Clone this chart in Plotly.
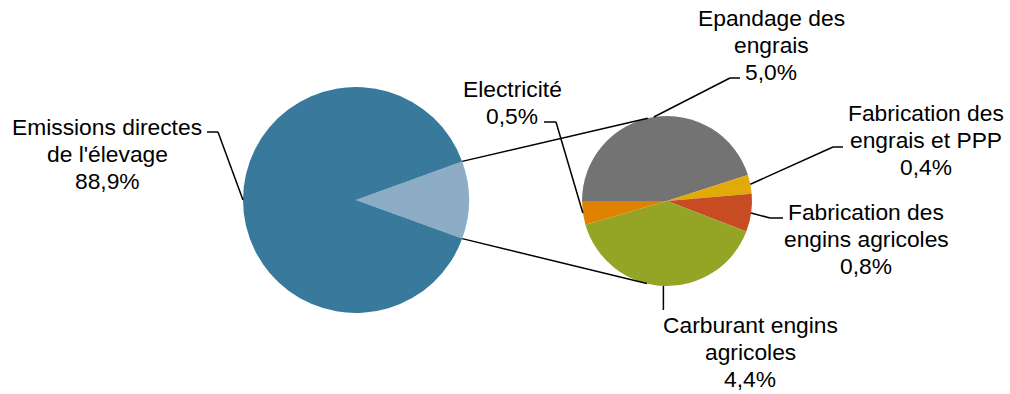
import math
import plotly.graph_objects as go

# ---- data -------------------------------------------------------------
main_label = "Emissions directes de l'élevage"
main_value = 88.9

detail_labels = [
    "Epandage des engrais",
    "Fabrication des engrais et PPP",
    "Fabrication des engins agricoles",
    "Carburant engins agricoles",
    "Electricité",
]
detail_values = [5.0, 0.4, 0.8, 4.4, 0.5]

# text lines shown for each label (value line appended automatically)
main_lines = ["Emissions directes", "de l'élevage"]
detail_lines = [
    ["Epandage des", "engrais"],
    ["Fabrication des", "engrais et PPP"],
    ["Fabrication des", "engins agricoles"],
    ["Carburant engins", "agricoles"],
    ["Electricité"],
]

# ---- styling / layout -------------------------------------------------
W, H = 1010, 394
FONT = "Liberation Sans, Arial, sans-serif"
FS = 22.8
LINE_H = 27

main_color = "#397A9C"
rest_color = "#8DADC6"
detail_colors = ["#737373", "#E2AA06", "#C84C23", "#94A424", "#DF8200"]

BIG_C, BIG_R = (356.0, 200.0), 113.0
SMALL_C, SMALL_R = (667.0, 201.0), 85.0

rest_value = round(sum(detail_values), 1)
big_values = [rest_value, main_value]
big_rotation = 90 - 180 * rest_value / (rest_value + main_value)
small_rotation = 270


def fx(x):
    return x / W


def fy(y):
    return 1 - y / H


def fmt(v):
    return f"{v:.1f}".replace(".", ",") + "%"


def edge_point(center, r, angle_deg):
    # angle measured clockwise from 12 o'clock, screen coordinates
    a = math.radians(angle_deg)
    return center[0] + r * math.sin(a), center[1] - r * math.cos(a)


def mid_angles(values, rotation):
    total = sum(values)
    out, cur = [], rotation
    for v in values:
        span = 360 * v / total
        out.append(cur + span / 2)
        cur += span
    return out


def tangent_points(p, center, r):
    vx, vy = p[0] - center[0], p[1] - center[1]
    d = math.hypot(vx, vy)
    phi = math.atan2(vy, vx)
    alpha = math.acos(r / d)
    pts = [(center[0] + r * math.cos(phi + s * alpha),
            center[1] + r * math.sin(phi + s * alpha)) for s in (1, -1)]
    return sorted(pts, key=lambda t: t[1])


def domain(center, r):
    return dict(x=[fx(center[0] - r), fx(center[0] + r)],
                y=[fy(center[1] + r), fy(center[1] - r)])


fig = go.Figure()
fig.add_trace(go.Pie(
    values=big_values, labels=["Autres", main_label], sort=False,
    direction="clockwise", rotation=big_rotation,
    marker=dict(colors=[rest_color, main_color], line=dict(width=0)),
    textinfo="none", hoverinfo="skip", domain=domain(BIG_C, BIG_R),
))
fig.add_trace(go.Pie(
    values=detail_values, labels=detail_labels, sort=False,
    direction="clockwise", rotation=small_rotation,
    marker=dict(colors=detail_colors, line=dict(width=0)),
    textinfo="none", hoverinfo="skip", domain=domain(SMALL_C, SMALL_R),
))

shapes = []


def polyline(points):
    for (x0, y0), (x1, y1) in zip(points[:-1], points[1:]):
        shapes.append(dict(type="line", xref="paper", yref="paper",
                           x0=fx(x0), y0=fy(y0), x1=fx(x1), y1=fy(y1),
                           line=dict(color="#000000", width=1.5)))


# connectors between the two pies (tangent to the detail pie)
rest_span = 360 * rest_value / (rest_value + main_value)
top_edge = edge_point(BIG_C, BIG_R, big_rotation)
bot_edge = edge_point(BIG_C, BIG_R, big_rotation + rest_span)
polyline([top_edge, tangent_points(top_edge, SMALL_C, SMALL_R)[0]])
polyline([bot_edge, tangent_points(bot_edge, SMALL_C, SMALL_R)[1]])

annotations = []


def label(cx, y0, lines):
    for i, t in enumerate(lines):
        annotations.append(dict(x=fx(cx), y=fy(y0 + i * LINE_H), xref="paper",
                                yref="paper", text=t, showarrow=False,
                                xanchor="center", yanchor="middle",
                                font=dict(family=FONT, size=FS, color="#000000")))


# main slice label
main_mid = mid_angles(big_values, big_rotation)[1]
polyline([edge_point(BIG_C, BIG_R, main_mid), (218, 132), (207, 132)])
label(107, 127, main_lines + [fmt(main_value)])

# detail slice labels: (text centre x, first line y, leader bend points)
detail_layout = [
    (771, 18, [(730, 78), (740, 78)]),
    (926, 113, [(833, 147), (843, 147)]),
    (866, 212, [(770, 218), (783, 218)]),
    (750, 325, [(665, 310)]),
    (512, 89, [(556, 122), (544, 122)]),
]
for ang, lines, v, (cx, y0, bends) in zip(
        mid_angles(detail_values, small_rotation), detail_lines,
        detail_values, detail_layout):
    start = edge_point(SMALL_C, SMALL_R, ang)
    if len(bends) == 1:
        bends = [(start[0], bends[0][1])]
    polyline([start] + bends)
    label(cx, y0, lines + [fmt(v)])

fig.update_layout(
    width=W, height=H, margin=dict(l=0, r=0, t=0, b=0),
    paper_bgcolor="white", plot_bgcolor="white",
    showlegend=False, shapes=shapes, annotations=annotations,
)
fig.write_html("out.html")
